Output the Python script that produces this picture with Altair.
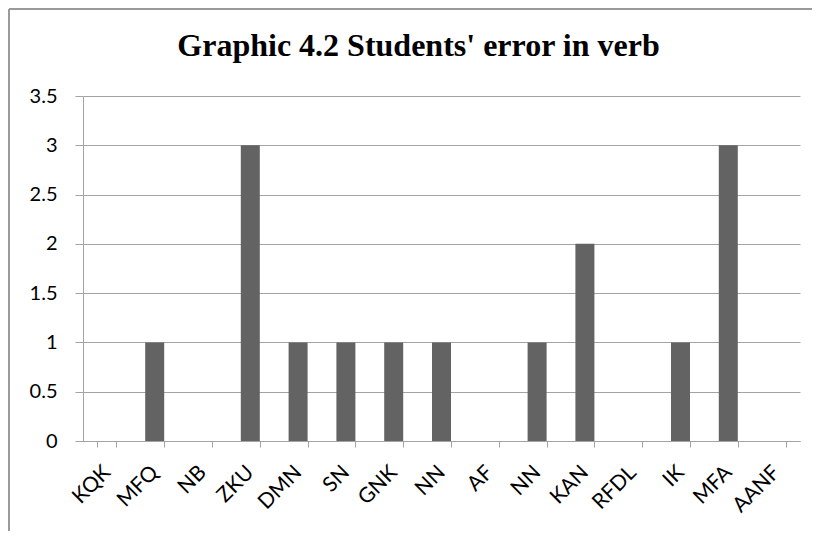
import altair as alt
import pandas as pd
import json

students = ["KQK", "MFQ", "NB", "ZKU", "DMN", "SN", "GNK", "NN", "AF", "NN",
            "KAN", "RFDL", "IK", "MFA", "AANF"]
errors = [0, 1, 0, 3, 1, 1, 1, 1, 0, 1, 2, 0, 1, 3, 0]
y_ticks = [0, 0.5, 1, 1.5, 2, 2.5, 3, 3.5]

df = pd.DataFrame({"idx": list(range(len(students))), "student": students, "errors": errors})
label_expr = json.dumps(students) + "[datum.value]"

FONT = "Lato"
GRID = "#a3a3a3"

bars = alt.Chart(df).mark_bar(color="#636363", size=19).encode(
    x=alt.X("idx:O", title=None, sort=None,
            scale=alt.Scale(paddingInner=0.6, paddingOuter=0.3),
            axis=alt.Axis(labelExpr=label_expr, labelAngle=315, labelAlign="right",
                          labelBaseline="middle", labelPadding=22,
                          tickBand="extent", tickSize=6, tickColor=GRID,
                          domainColor=GRID, labelFont=FONT, labelFontSize=21,
                          labelColor="#000000", grid=False)),
    y=alt.Y("errors:Q", title=None,
            scale=alt.Scale(domain=[0, 3.5], nice=False),
            axis=alt.Axis(values=y_ticks, tickSize=8,
                          labelPadding=18, tickColor=GRID, domainColor=GRID,
                          gridColor=GRID, labelFont=FONT, labelFontSize=20,
                          labelColor="#000000", format="~g")),
)

border_top = alt.Chart(df).mark_rule(color="#9a9a9a", strokeWidth=1.5).encode(
    x=alt.value(-74), x2=alt.value(729), y=alt.value(-87))
border_left = alt.Chart(df).mark_rule(color="#9a9a9a", strokeWidth=1.5).encode(
    x=alt.value(-74), y=alt.value(-87), y2=alt.value(440))

chart = alt.layer(border_top, border_left, bars).properties(
    width=717, height=345,
    autosize=alt.AutoSizeParams(type="none"),
    padding={"left": 75, "top": 88, "right": 12, "bottom": 90},
    title=alt.TitleParams("Graphic 4.2 Students' error in verb",
                          font="Liberation Serif",
                          fontSize=32, fontWeight="bold", color="#000000",
                          anchor="middle", baseline="alphabetic", dx=-23, offset=-80),
).configure_view(stroke=None)

chart.save("out.html", embed_options={"renderer": "svg", "actions": False})
